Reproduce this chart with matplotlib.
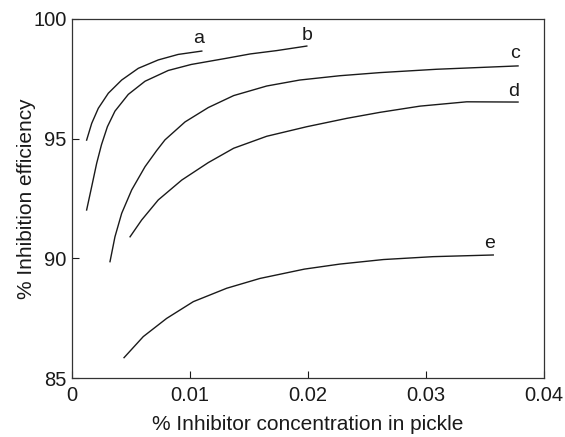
import matplotlib
matplotlib.use("Agg")
import matplotlib.pyplot as plt

plt.rcParams['font.family'] = ['Liberation Sans', 'DejaVu Sans']

a_x = [0.00124, 0.00167, 0.00223, 0.00308, 0.00421, 0.00562, 0.00731, 0.0090, 0.0110]
a_y = [94.94, 95.64, 96.27, 96.90, 97.45, 97.94, 98.29, 98.52, 98.66]

b_x = [0.00124, 0.00167, 0.00209, 0.0025, 0.0030, 0.00364, 0.00477, 0.00619, 0.00816,
       0.0101, 0.0131, 0.0151, 0.01735, 0.0199]
b_y = [92.02, 93.0, 93.97, 94.75, 95.5, 96.15, 96.85, 97.4, 97.85,
       98.1, 98.36, 98.54, 98.68, 98.87]

c_x = [0.00322, 0.00364, 0.00421, 0.00506, 0.00619, 0.00717, 0.00788, 0.00958, 0.01155,
       0.0137, 0.0165, 0.0193, 0.0227, 0.0261, 0.0309, 0.0378]
c_y = [89.86, 90.9, 91.88, 92.86, 93.83, 94.5, 94.95, 95.7, 96.3,
       96.8, 97.2, 97.45, 97.63, 97.76, 97.9, 98.04]

d_x = [0.00492, 0.0059, 0.00731, 0.0093, 0.01155, 0.0137, 0.0165, 0.0199, 0.0233,
       0.0261, 0.0295, 0.03345, 0.0378]
d_y = [90.9, 91.6, 92.44, 93.27, 94.0, 94.6, 95.1, 95.5, 95.85,
       96.1, 96.36, 96.54, 96.53]

e_x = [0.00441, 0.00604, 0.00802, 0.01028, 0.01311, 0.01593, 0.0197, 0.0227, 0.0264,
       0.0306, 0.0357]
e_y = [85.85, 86.73, 87.49, 88.19, 88.75, 89.16, 89.55, 89.76, 89.95,
       90.07, 90.14]

labels = ['a', 'b', 'c', 'd', 'e']
label_pos = [(0.0107, 99.19), (0.0199, 99.33), (0.03754, 98.57), (0.03746, 96.96), (0.03542, 90.63)]

fig = plt.figure(figsize=(5.65, 4.37), dpi=100)
ax = fig.add_axes([72/565, 1 - 378/437, (544-72)/565, (378-19)/437])

for xs, ys in [(a_x, a_y), (b_x, b_y), (c_x, c_y), (d_x, d_y), (e_x, e_y)]:
    ax.plot(xs, ys, color='#1a1a1a', lw=1.0, solid_joinstyle='round')

for lab, (x, y) in zip(labels, label_pos):
    ax.text(x, y, lab, fontsize=14, ha='center', va='center', color='#1a1a1a')

ax.set_xlim(0, 0.04)
ax.set_ylim(85, 100)
ax.set_xticks([0, 0.01, 0.02, 0.03, 0.04])
ax.set_xticklabels(['0', '0.01', '0.02', '0.03', '0.04'])
ax.set_yticks([85, 90, 95, 100])
ax.tick_params(direction='in', length=5, width=0.8, labelsize=14.5, colors='#1a1a1a')
ax.tick_params(axis='x', pad=6)
ax.tick_params(axis='y', pad=4)
for s in ax.spines.values():
    s.set_color('#333333')
    s.set_linewidth(0.9)
ax.set_xlabel('% Inhibitor concentration in pickle', fontsize=15, color='#1a1a1a', labelpad=7)
ax.set_ylabel('% Inhibition efficiency', fontsize=15, color='#1a1a1a', labelpad=-2)

fig.savefig('out.png', dpi=100)
